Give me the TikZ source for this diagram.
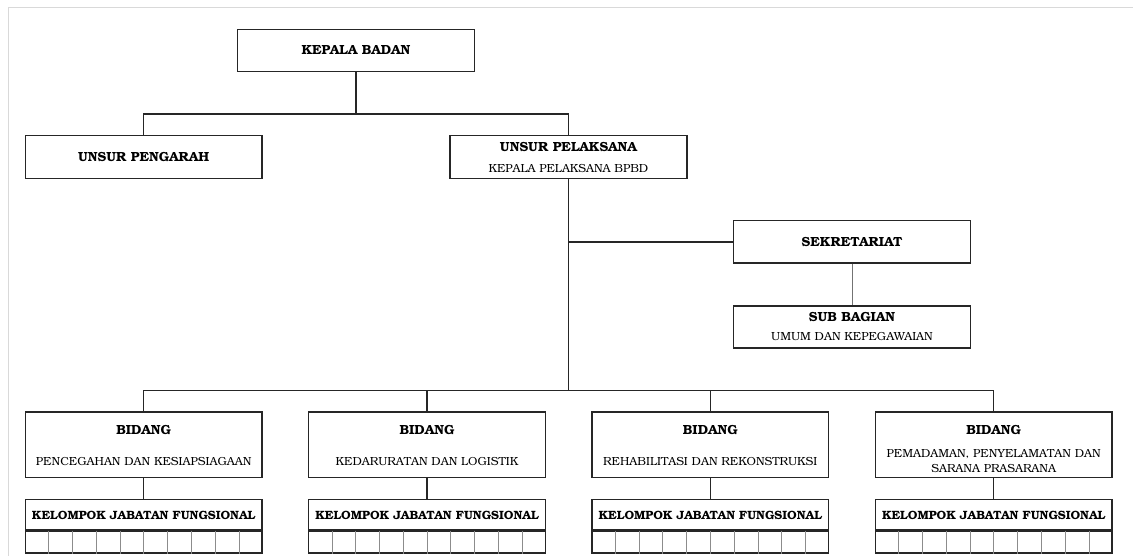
\documentclass[tikz,border=0pt]{standalone}
\usepackage[T1]{fontenc}
\usepackage{bookman}
\usetikzlibrary{calc}
\begin{document}
\begin{tikzpicture}[x=1pt,y=-1pt,
  box/.style={draw=black!85, line width=1.3pt, minimum width=236.5pt, inner sep=0pt, align=center},
  hd/.style={inner sep=0pt, font=\fontsize{13.2}{15}\selectfont\bfseries},
  kj/.style={inner sep=0pt, font=\fontsize{12}{15}\selectfont\bfseries},
  tx/.style={inner sep=0pt, align=center, font=\fontsize{11.7}{15}\selectfont},
  conn/.style={draw=black!85, line width=1.4pt},
  thinconn/.style={draw=black!55, line width=0.8pt},
  cellline/.style={draw=black!45, line width=0.6pt},
  frame/.style={draw=black!15, line width=1pt}]
\useasboundingbox (0,0) rectangle (1133,556);
\draw[frame] (8,556) -- (8,8) -- (1133,8);

% top level
\node[box, minimum height=42.5pt] (kb) at (356,50.5) {};
\node[hd] (kbt) at (kb.center) {KEPALA BADAN};
\node[box, minimum height=42.6pt] (upg) at (143.7,157) {};
\node[hd] (upgt) at (upg.center) {UNSUR PENGARAH};
\node[box, minimum height=42.6pt, minimum width=237pt] (pl) at (568.5,157) {};
\node[hd] (plt1) at ($(pl.center)+(0,-10)$) {UNSUR PELAKSANA};
\node[tx] (plt2) at ($(pl.center)+(0,12)$) {KEPALA PELAKSANA BPBD};

% secretariat
\node[box, minimum height=42.3pt, minimum width=237pt] (sek) at (852,242) {};
\node[hd] (sekt) at (sek.center) {SEKRETARIAT};
\node[box, minimum height=42pt, minimum width=237pt] (sub) at (852,327) {};
\node[hd] (subt1) at ($(sub.center)+(0,-10)$) {SUB BAGIAN};
\node[tx] (subt2) at ($(sub.center)+(0,10)$) {UMUM DAN KEPEGAWAIAN};

% bidang
\node[box, minimum height=65.5pt] (b1) at (143.7,444.7) {};
\node[box, minimum height=65.5pt] (b2) at (427,444.7) {};
\node[box, minimum height=65.5pt] (b3) at (710.3,444.7) {};
\node[box, minimum height=65.5pt] (b4) at (993.7,444.7) {};
\foreach \i in {1,2,3,4}{
  \node[hd] (bt\i) at ($(b\i.center)+(0,-14.7)$) {BIDANG};
}
\node[tx] (bs1) at ($(b1.center)+(0,17)$) {PENCEGAHAN DAN KESIAPSIAGAAN};
\node[tx] (bs2) at ($(b2.center)+(0,17)$) {KEDARURATAN DAN LOGISTIK};
\node[tx] (bs3) at ($(b3.center)+(0,17)$) {REHABILITASI DAN REKONSTRUKSI};
\node[tx] (bs4a) at ($(b4.center)+(0,9.3)$) {PEMADAMAN, PENYELAMATAN DAN};
\node[tx] (bs4b) at ($(b4.center)+(0,24.3)$) {SARANA PRASARANA};

% kelompok jabatan fungsional
\foreach \i in {1,2,3,4}{
  \node[box, minimum height=30.3pt, anchor=north] (k\i) at ([yshift=-21pt]b\i.south) {};
  \node[kj] (kt\i) at (k\i.center) {KELOMPOK JABATAN FUNGSIONAL};
  \node[box, minimum height=21.7pt, anchor=north] (c\i) at (k\i.south) {};
  \foreach \j in {1,...,9}{
    \draw[cellline] ($(c\i.north west)!\j/10!(c\i.north east)$) -- ($(c\i.south west)!\j/10!(c\i.south east)$);
  }
  \draw[conn] (b\i.south) -- (k\i.north);
}

% connectors
\coordinate (j1) at (356,114);
\coordinate (bus) at (569,390.5);
\draw[conn] (kb.south) -- (kb.south |- j1);
\draw[conn] (upg.north) -- (upg.north |- j1) -- (pl.north |- j1) -- (pl.north);
\draw[conn] (pl.south) -- (pl.south |- bus);
\draw[conn] (pl.south |- sek.west) -- (sek.west);
\draw[thinconn] (sek.south) -- (sub.north);
\draw[conn] (b1.north) -- (b1.north |- bus) -- (b4.north |- bus) -- (b4.north);
\draw[conn] (b2.north) -- (b2.north |- bus);
\draw[conn] (b3.north) -- (b3.north |- bus);
\end{tikzpicture}
\end{document}
